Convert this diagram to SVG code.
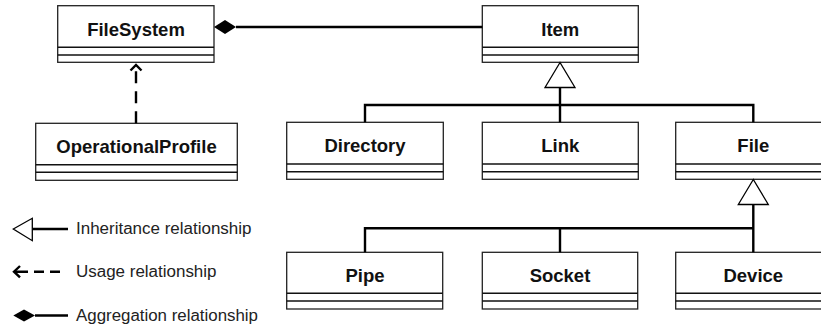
<svg xmlns="http://www.w3.org/2000/svg" width="821" height="328" viewBox="0 0 821 328">
<style>
.box{fill:#fff;stroke:#222;stroke-width:1.3}
.div{stroke:#111;stroke-width:1.6}
.name{font-family:"Liberation Sans",Arial,sans-serif;font-weight:bold;font-size:18.5px;fill:#111;text-anchor:middle}
.conn{fill:none;stroke:#000;stroke-width:2.4}
.tri{fill:#fff;stroke:#000;stroke-width:1.3}
.leg{font-family:"Liberation Sans",Arial,sans-serif;font-size:16px;fill:#222}
</style>
<defs>
<polygon id="tri" class="tri" points="0,0 -15,25 15,25"/>
</defs>
<rect width="821" height="328" fill="#fff"/>
<g id="FileSystem">
<rect class="box" x="57.7" y="5.7" width="156.3" height="56.6"/>
<line class="div" x1="57.7" y1="47.3" x2="214" y2="47.3"/>
<line class="div" x1="57.7" y1="55" x2="214" y2="55"/>
<text class="name" x="136" y="35.7">FileSystem</text>
</g>
<g id="Item">
<rect class="box" x="482.3" y="5.7" width="156" height="56.6"/>
<line class="div" x1="482.3" y1="47.3" x2="638.3" y2="47.3"/>
<line class="div" x1="482.3" y1="55" x2="638.3" y2="55"/>
<text class="name" x="560.3" y="35.7">Item</text>
</g>
<g id="OperationalProfile">
<rect class="box" x="35.7" y="123.3" width="201.6" height="57"/>
<line class="div" x1="35.7" y1="164.7" x2="237.3" y2="164.7"/>
<line class="div" x1="35.7" y1="172.3" x2="237.3" y2="172.3"/>
<text class="name" x="136.5" y="153.3">OperationalProfile</text>
</g>
<g id="Directory">
<rect class="box" x="286.7" y="122.3" width="156.6" height="57"/>
<line class="div" x1="286.7" y1="164" x2="443.3" y2="164"/>
<line class="div" x1="286.7" y1="171.7" x2="443.3" y2="171.7"/>
<text class="name" x="365" y="152.3">Directory</text>
</g>
<g id="Link">
<rect class="box" x="482.3" y="122.3" width="156" height="57"/>
<line class="div" x1="482.3" y1="164" x2="638.3" y2="164"/>
<line class="div" x1="482.3" y1="171.7" x2="638.3" y2="171.7"/>
<text class="name" x="560.3" y="152.3">Link</text>
</g>
<g id="File">
<rect class="box" x="675.7" y="122.3" width="155.3" height="57"/>
<line class="div" x1="675.7" y1="164" x2="831" y2="164"/>
<line class="div" x1="675.7" y1="171.7" x2="831" y2="171.7"/>
<text class="name" x="753.3" y="152.3">File</text>
</g>
<g id="Pipe">
<rect class="box" x="286.7" y="252.3" width="156" height="56.7"/>
<line class="div" x1="286.7" y1="293.3" x2="442.7" y2="293.3"/>
<line class="div" x1="286.7" y1="301" x2="442.7" y2="301"/>
<text class="name" x="365" y="282.3">Pipe</text>
</g>
<g id="Socket">
<rect class="box" x="482.3" y="252.3" width="155.4" height="56.7"/>
<line class="div" x1="482.3" y1="293.3" x2="637.7" y2="293.3"/>
<line class="div" x1="482.3" y1="301" x2="637.7" y2="301"/>
<text class="name" x="560" y="282.3">Socket</text>
</g>
<g id="Device">
<rect class="box" x="675.7" y="252.3" width="155.3" height="56.7"/>
<line class="div" x1="675.7" y1="293.3" x2="831" y2="293.3"/>
<line class="div" x1="675.7" y1="301" x2="831" y2="301"/>
<text class="name" x="753.3" y="282.3">Device</text>
</g>
<g id="connectors">
<line class="conn" x1="236" y1="27" x2="482.3" y2="27"/>
<polygon points="214,27 225,20 236,27 225,34" fill="#000"/>
<line class="conn" x1="136" y1="123.3" x2="136" y2="66" stroke-dasharray="12,8"/>
<polyline class="conn" points="130.5,70.5 136,65 141.5,70.5"/>
<path class="conn" d="M560,87.5 V122.3 M365,122.3 V105 H753.3 V122.3"/>
<use href="#tri" x="560" y="62.5"/>
<path class="conn" d="M753.3,204 V252.3 M365,252.3 V228.3 H753.3 M560,228.3 V252.3"/>
<use href="#tri" x="753.3" y="179.5"/>
</g>
<g id="legend">
<polygon class="tri" points="13.3,229 32.3,218.3 32.3,240.7"/>
<line class="conn" x1="32.3" y1="229" x2="68" y2="229"/>
<text class="leg" x="76" y="233.5" textLength="175.5" lengthAdjust="spacingAndGlyphs">Inheritance relationship</text>
<line class="conn" x1="15" y1="271.7" x2="64" y2="271.7" stroke-dasharray="13,6,10,6,10"/>
<polyline class="conn" points="20,266 14,271.7 20,277.4"/>
<text class="leg" x="76" y="277.3" textLength="140.5" lengthAdjust="spacingAndGlyphs">Usage relationship</text>
<polygon points="13.3,315.5 24,309.5 35,315.5 24,321.5" fill="#000"/>
<line class="conn" x1="35" y1="315.5" x2="68" y2="315.5"/>
<text class="leg" x="76" y="321" textLength="182" lengthAdjust="spacingAndGlyphs">Aggregation relationship</text>
</g>
</svg>
